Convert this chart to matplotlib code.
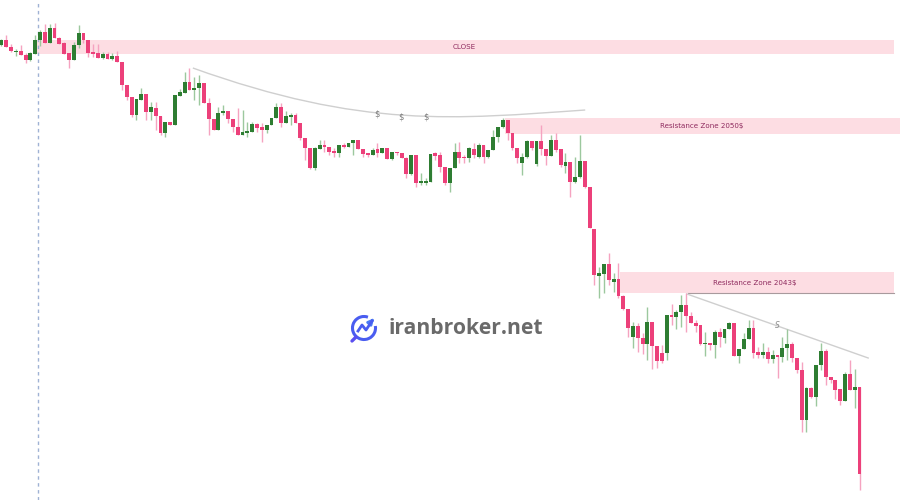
import numpy as np
import matplotlib.pyplot as plt
from matplotlib.path import Path
from matplotlib.patches import PathPatch, Arc, FancyArrowPatch

# OHLC candles (gold)
opens = [2053.75, 2054.00, 2053.65, 2053.40, 2053.45, 2053.25, 2053.00, 2053.30, 2054.00, 2054.40,
         2053.85, 2054.60, 2054.10, 2053.85, 2053.35, 2053.00, 2053.75, 2054.35, 2054.00, 2053.40,
         2053.35, 2053.10, 2053.30, 2053.05, 2053.20, 2052.90, 2051.75, 2051.15, 2050.25, 2051.00,
         2051.30, 2050.40, 2050.60, 2050.20, 2049.35, 2049.90, 2049.75, 2051.20, 2051.35, 2051.90,
         2051.50, 2051.60, 2051.85, 2050.85, 2050.05, 2049.50, 2050.35, 2050.45, 2050.05, 2049.65,
         2049.25, 2049.35, 2049.40, 2049.80, 2049.65, 2049.50, 2049.75, 2050.10, 2050.65, 2049.85,
         2050.15, 2050.25, 2049.85, 2049.10, 2048.60, 2047.60, 2048.55, 2048.75, 2048.65, 2048.45,
         2048.35, 2048.75, 2048.65, 2048.85, 2049.00, 2048.55, 2048.35, 2048.25, 2048.55, 2048.35,
         2048.60, 2048.05, 2048.40, 2048.35, 2048.10, 2047.30, 2048.25, 2046.85, 2046.85, 2046.90,
         2048.35, 2048.25, 2047.65, 2046.85, 2047.60, 2048.40, 2048.15, 2048.10, 2048.55, 2048.15,
         2048.75, 2048.15, 2048.50, 2049.15, 2049.65, 2050.00, 2049.35, 2048.60, 2047.85, 2048.15,
         2048.95, 2047.80, 2048.95, 2048.55, 2048.20, 2049.00, 2048.55, 2047.70, 2047.90, 2046.90,
         2047.15, 2047.95, 2046.65, 2044.55, 2042.20, 2042.30, 2042.80, 2041.90, 2042.05, 2041.20,
         2040.55, 2039.15, 2039.70, 2039.10, 2038.80, 2039.90, 2038.70, 2038.35, 2038.35, 2040.25,
         2040.15, 2040.40, 2040.75, 2040.20, 2039.85, 2039.75, 2038.80, 2038.85, 2038.75, 2039.40,
         2039.10, 2039.55, 2039.85, 2038.20, 2038.55, 2039.05, 2039.60, 2038.40, 2038.25, 2038.40,
         2038.05, 2038.25, 2038.15, 2038.60, 2038.80, 2038.10, 2037.50, 2035.00, 2036.60, 2036.15,
         2037.75, 2038.45, 2037.15, 2037.00, 2036.55, 2035.95, 2037.30, 2036.50, 2036.65]
highs = [2054.05, 2054.25, 2053.80, 2053.55, 2053.75, 2053.35, 2053.40, 2054.25, 2054.50, 2054.80,
         2054.80, 2054.85, 2054.15, 2053.90, 2053.35, 2053.90, 2054.75, 2054.35, 2054.00, 2053.80,
         2053.80, 2053.40, 2053.40, 2053.35, 2053.45, 2052.90, 2051.75, 2051.15, 2051.05, 2051.60,
         2051.30, 2050.90, 2050.90, 2050.20, 2049.90, 2049.90, 2051.25, 2051.55, 2052.40, 2052.60,
         2052.15, 2052.25, 2051.85, 2051.10, 2050.05, 2050.65, 2050.75, 2050.45, 2050.05, 2050.60,
         2050.50, 2049.90, 2049.90, 2049.85, 2049.85, 2049.75, 2050.10, 2050.85, 2050.85, 2050.45,
         2050.35, 2050.35, 2049.85, 2049.10, 2048.60, 2048.65, 2049.00, 2049.00, 2048.65, 2048.60,
         2048.75, 2048.85, 2048.85, 2049.00, 2049.00, 2048.55, 2048.35, 2048.60, 2048.85, 2048.60,
         2048.60, 2048.40, 2048.40, 2048.35, 2048.15, 2048.25, 2048.25, 2047.35, 2047.10, 2048.30,
         2048.40, 2048.40, 2047.65, 2047.60, 2048.85, 2048.90, 2048.25, 2048.65, 2048.85, 2048.85,
         2048.75, 2048.50, 2049.50, 2049.65, 2050.10, 2050.00, 2049.35, 2048.60, 2048.35, 2049.00,
         2048.95, 2048.95, 2049.75, 2048.55, 2049.25, 2049.35, 2048.55, 2048.35, 2047.90, 2048.15,
         2049.25, 2047.95, 2046.65, 2044.55, 2042.65, 2042.80, 2043.35, 2042.35, 2042.85, 2041.25,
         2040.55, 2039.90, 2039.85, 2039.35, 2040.65, 2039.90, 2038.70, 2038.75, 2040.25, 2040.80,
         2040.50, 2041.25, 2041.35, 2040.40, 2040.00, 2039.75, 2039.40, 2038.85, 2039.50, 2039.60,
         2039.55, 2039.90, 2039.85, 2038.55, 2039.35, 2040.00, 2040.00, 2038.65, 2038.85, 2038.65,
         2038.50, 2038.25, 2039.15, 2039.55, 2038.90, 2038.10, 2037.90, 2036.65, 2036.65, 2037.75,
         2038.85, 2038.55, 2037.15, 2037.00, 2036.55, 2037.40, 2038.00, 2037.55, 2036.65]
lows = [2053.70, 2053.65, 2053.40, 2053.20, 2053.25, 2052.85, 2052.95, 2053.30, 2053.70, 2053.85,
        2053.85, 2054.10, 2053.80, 2053.30, 2052.60, 2053.00, 2053.60, 2053.85, 2053.15, 2053.15,
        2053.10, 2053.05, 2053.05, 2053.00, 2052.90, 2051.50, 2051.00, 2050.15, 2050.00, 2051.00,
        2050.00, 2050.00, 2049.50, 2049.25, 2049.15, 2049.75, 2049.75, 2051.20, 2051.35, 2051.50,
        2051.00, 2050.75, 2050.85, 2049.25, 2049.50, 2049.50, 2050.25, 2049.85, 2049.40, 2049.25,
        2049.25, 2049.15, 2049.40, 2049.40, 2048.90, 2049.35, 2049.75, 2050.10, 2049.65, 2049.85,
        2049.75, 2049.85, 2049.00, 2048.00, 2047.55, 2047.50, 2048.55, 2048.40, 2048.25, 2048.15,
        2048.15, 2048.60, 2048.65, 2048.25, 2048.55, 2048.15, 2048.15, 2048.25, 2048.15, 2048.35,
        2048.05, 2048.00, 2048.25, 2048.10, 2047.10, 2047.25, 2046.65, 2046.75, 2046.75, 2046.90,
        2048.00, 2047.40, 2046.75, 2046.40, 2047.60, 2047.85, 2047.85, 2047.90, 2048.10, 2048.10,
        2047.85, 2048.10, 2048.50, 2048.90, 2049.60, 2049.00, 2048.50, 2047.85, 2047.25, 2048.10,
        2048.50, 2047.70, 2048.25, 2047.75, 2048.20, 2048.40, 2047.65, 2047.35, 2046.15, 2046.85,
        2047.10, 2046.60, 2044.60, 2041.75, 2041.10, 2041.35, 2041.75, 2041.40, 2041.10, 2040.50,
        2039.15, 2038.60, 2038.40, 2038.30, 2038.00, 2037.55, 2037.60, 2037.85, 2038.00, 2039.75,
        2039.55, 2039.65, 2039.40, 2039.85, 2039.40, 2038.75, 2038.20, 2038.50, 2038.10, 2038.65,
        2038.85, 2039.55, 2038.20, 2037.85, 2038.55, 2039.05, 2038.10, 2038.10, 2038.10, 2037.85,
        2037.85, 2037.10, 2037.90, 2038.00, 2037.90, 2037.35, 2034.40, 2034.40, 2036.10, 2035.70,
        2037.50, 2036.75, 2036.85, 2036.05, 2035.75, 2035.95, 2036.50, 2035.60, 2031.50]
closes = [2054.00, 2053.65, 2053.45, 2053.45, 2053.25, 2053.00, 2053.35, 2054.00, 2054.40, 2053.85,
          2054.60, 2054.10, 2053.80, 2053.30, 2053.00, 2053.75, 2054.35, 2054.00, 2053.35, 2053.30,
          2053.10, 2053.30, 2053.05, 2053.20, 2052.90, 2051.75, 2051.15, 2050.25, 2051.05, 2051.30,
          2050.40, 2050.65, 2050.20, 2049.35, 2049.90, 2049.75, 2051.25, 2051.40, 2051.90, 2051.50,
          2051.60, 2051.85, 2050.85, 2050.05, 2049.50, 2050.35, 2050.45, 2050.05, 2049.65, 2049.25,
          2049.40, 2049.45, 2049.80, 2049.60, 2049.50, 2049.75, 2050.10, 2050.65, 2049.85, 2050.20,
          2050.25, 2049.85, 2049.10, 2048.60, 2047.60, 2048.60, 2048.75, 2048.65, 2048.40, 2048.35,
          2048.75, 2048.65, 2048.85, 2049.00, 2048.55, 2048.30, 2048.25, 2048.50, 2048.35, 2048.60,
          2048.05, 2048.40, 2048.35, 2048.10, 2047.30, 2048.25, 2046.85, 2046.95, 2046.95, 2048.30,
          2048.20, 2047.65, 2046.85, 2047.60, 2048.40, 2048.10, 2048.10, 2048.60, 2048.25, 2048.75,
          2048.15, 2048.50, 2049.15, 2049.65, 2050.00, 2049.35, 2048.60, 2048.10, 2048.15, 2048.95,
          2048.60, 2048.95, 2048.55, 2048.20, 2049.00, 2048.50, 2047.75, 2047.90, 2046.90, 2047.15,
          2047.95, 2046.65, 2044.60, 2042.25, 2042.35, 2042.80, 2042.00, 2042.05, 2041.20, 2040.55,
          2039.60, 2039.70, 2039.10, 2038.80, 2039.90, 2038.70, 2037.95, 2037.95, 2040.25, 2040.15,
          2040.40, 2040.75, 2040.20, 2039.85, 2039.70, 2038.80, 2038.85, 2038.75, 2039.40, 2039.15,
          2039.55, 2039.85, 2038.20, 2038.55, 2039.05, 2039.60, 2038.35, 2038.25, 2038.40, 2038.05,
          2038.25, 2038.15, 2038.60, 2038.80, 2038.10, 2037.50, 2035.00, 2036.60, 2036.15, 2037.75,
          2038.45, 2037.15, 2037.00, 2036.50, 2035.95, 2037.30, 2036.50, 2036.65, 2032.30]

# zones: (label, start bar, end bar, top, bottom)
zone_labels = ["CLOSE", "Resistance Zone 2050$", "Resistance Zone 2043$"]
zone_start = [7.2, 104.5, 128.3]
zone_end = [185.2, 186.4, 185.2]
zone_top = [2054.0, 2050.1, 2042.4]
zone_bottom = [2053.3, 2049.3, 2041.35]
zone_label_x = [96.0, 145.3, 156.3]

session_bar = 7.47

# drawn curve (cubic bezier control points) and trend line
curve_x = [39.7, 75.0, 94.1, 121.1]
curve_y = [2052.6, 2049.55, 2050.05, 2050.5]
curve_marks_x = [77.9, 82.9, 88.1]
curve_marks_y = [2050.3, 2050.15, 2050.15]
trend_x = [142.2, 179.8]
trend_y = [2041.3, 2038.1]
trend_mark = (161.0, 2039.7)

bull, bear = "#2e7d32", "#ec407a"
bull_wick, bear_wick = "#9cc89e", "#f5a3c0"

fig = plt.figure(figsize=(9, 5), dpi=100)
ax = fig.add_axes([0, 0, 1, 1])
ax.set_xlim(-0.31, 186.4)
ax.set_ylim(2031, 2056)
ax.axis("off")

# zones
for lab, x0, x1, top, bot, lx in zip(zone_labels, zone_start, zone_end, zone_top, zone_bottom, zone_label_x):
    ax.fill_between([x0, x1], bot, top, color="#fddde3", lw=0, zorder=1)
    ax.text(lx, (top + bot) / 2, lab, fontsize=5.1, color="#8e2a5e",
            ha="center", va="center", zorder=5)
ax.plot([142.4, 185.2], [zone_bottom[2], zone_bottom[2]], color="#a89a9d", lw=0.8, zorder=2)

ax.axvline(session_bar, color="#9fb2d4", lw=1, ls=(0, (2.5, 2.5)), zorder=1)

# candles
o = np.array(opens); h = np.array(highs); l = np.array(lows); c = np.array(closes)
idx = np.arange(len(o))
up = c >= o
ax.vlines(idx[up], l[up], h[up], color=bull_wick, lw=1, zorder=3)
ax.vlines(idx[~up], l[~up], h[~up], color=bear_wick, lw=1, zorder=3)
body = np.maximum(np.abs(c - o), 0.05)
ax.bar(idx[up], body[up], bottom=np.minimum(o, c)[up], width=0.8, color=bull, lw=0, zorder=4)
ax.bar(idx[~up], body[~up], bottom=np.minimum(o, c)[~up], width=0.8, color=bear, lw=0, zorder=4)

# curve drawing
verts = list(zip(curve_x, curve_y))
path = Path(verts, [Path.MOVETO, Path.CURVE4, Path.CURVE4, Path.CURVE4])
ax.add_patch(PathPatch(path, fc="none", ec="#cfcfcf", lw=1, zorder=2))
for mx, my in zip(curve_marks_x, curve_marks_y):
    ax.text(mx, my, "$", fontsize=6, color="#7a7a7a", ha="center", va="center", zorder=5)

ax.plot(trend_x, trend_y, color="#cfcfcf", lw=1, zorder=2)
ax.text(trend_mark[0], trend_mark[1], "S", fontsize=5.5, color="#8a8a8a", style="italic",
        ha="center", va="center", zorder=5)

# watermark logo
fig.text(389 / 900, 1 - 328 / 500, "iranbroker.net", fontsize=15.2, fontweight="bold",
         color="#6a6a6a", ha="left", va="center", family="Open Sans")
lax = fig.add_axes([348 / 900, 1 - 344 / 500, 32 / 900, 32 / 500])
lax.set_xlim(0, 32)
lax.set_ylim(32, 0)
lax.axis("off")
lax.add_patch(Arc((16, 16), 23, 23, theta1=-10, theta2=290, color="#4a5df0", lw=2.2))
lax.plot([4, 8], [29, 25], color="#5a4ff0", lw=2.4, solid_capstyle="round")
lax.plot([10, 14, 18, 24], [19, 13, 18, 9], color="#4a5df0", lw=2.0, solid_joinstyle="round")
lax.add_patch(FancyArrowPatch((22, 11), (28, 4), arrowstyle="-|>", mutation_scale=8,
                              color="#4a7cf5", lw=2))

fig.savefig("out.png", dpi=100)
